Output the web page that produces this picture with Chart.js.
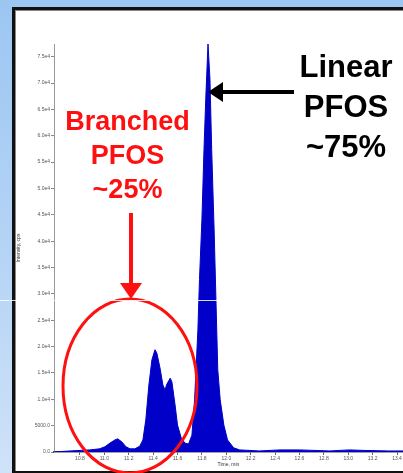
<!DOCTYPE html>
<html>
<head>
<meta charset="utf-8">
<script src="https://cdn.jsdelivr.net/npm/chart.js@4/dist/chart.umd.min.js"></script>
<style>
  html, body { margin: 0; padding: 0; }
  body { width: 403px; height: 473px; position: relative; overflow: hidden;
         background: linear-gradient(180deg, #9cc6f2 0%, #b8d6f6 60%, #cfe2f8 100%); }
  #frame { position: absolute; left: 12px; top: 7px; width: 400px; height: 461px;
           background: #fff; border-left: 3px solid #111; border-top: 3px solid #111; border-bottom: 3px solid #111;
           box-shadow: inset 1px 1px 0 #888; }
  #wrap { position: absolute; left: 0; top: 0; width: 403px; height: 473px; }
  .note { position: absolute; font-family: "Liberation Sans", Arial, sans-serif; font-weight: bold;
          text-align: center; line-height: 1; white-space: nowrap; }
  #branched { color: #ff1010; font-size: 27px; left: 55px; top: 108px; width: 145px; }
  #branched div { height: 34px; }
  #linear { color: #000; font-size: 31px; left: 290px; top: 51px; width: 112px; }
  #linear div { height: 40px; }
  svg { position: absolute; left: 0; top: 0; }
  #streak { position: absolute; left: 0; top: 300px; width: 235px; height: 1px; background: rgba(255,255,255,0.85); }
</style>
</head>
<body>
<div id="frame"></div>
<div id="wrap"><canvas id="chart" width="403" height="473"></canvas></div>
<svg width="403" height="473">
  <ellipse cx="130" cy="386" rx="67" ry="87" fill="none" stroke="#ff1010" stroke-width="3"/>
  <line x1="131" y1="213" x2="131" y2="286" stroke="#ff1010" stroke-width="4"/>
  <polygon points="120,283 142,283 131,299" fill="#ff1010"/>
  <line x1="294" y1="92" x2="220" y2="92" stroke="#000" stroke-width="4"/>
  <polygon points="223,82 223,102 208,92" fill="#000"/>
</svg>
<div class="note" id="branched"><div>Branched</div><div>PFOS</div><div>~25%</div></div>
<div class="note" id="linear"><div>Linear</div><div>PFOS</div><div>~75%</div></div>
<div id="streak"></div>

<script>
//data
var retentionTimes = [10.587, 10.72, 10.88, 10.96, 11.005, 11.046, 11.087, 11.11, 11.144, 11.177,
    11.21, 11.25, 11.29, 11.316, 11.34, 11.365, 11.39, 11.415, 11.43, 11.456,
    11.48, 11.497, 11.513, 11.54, 11.554, 11.58, 11.60, 11.63, 11.66, 11.69,
    11.718, 11.74, 11.767, 11.78, 11.80, 11.817, 11.833, 11.85, 11.866, 11.88,
    11.90, 11.915, 11.93, 11.95, 11.98, 12.01, 12.06, 12.11, 12.27, 12.44,
    12.60, 12.85, 13.01, 13.13, 13.33, 13.449];
var intensities = [0, 200, 400, 600, 1000, 1700, 2300, 2500, 1900, 1000,
    600, 600, 1100, 2300, 6100, 12700, 17500, 19400, 18800, 16000,
    12700, 11800, 12900, 14000, 13300, 8900, 5100, 2700, 1700, 1500,
    3200, 9900, 23200, 32700, 44100, 57400, 67900, 77400, 70700, 57400,
    42200, 28900, 15600, 9900, 5100, 2300, 800, 400, 200, 400,
    400, 200, 400, 300, 200, 200];

var xTicks = [10.8, 11.0, 11.2, 11.4, 11.6, 11.8, 12.0, 12.2, 12.4, 12.6, 12.8, 13.0, 13.2, 13.4];
var yTicks = [0, 5000, 10000, 15000, 20000, 25000, 30000, 35000, 40000, 45000, 50000, 55000, 60000, 65000, 70000, 75000];
var yTickLabels = ["0.0", "5000.0", "1.0e4", "1.5e4", "2.0e4", "2.5e4", "3.0e4", "3.5e4",
    "4.0e4", "4.5e4", "5.0e4", "5.5e4", "6.0e4", "6.5e4", "7.0e4", "7.5e4"];

var points = [];
retentionTimes.forEach(function(t, i){
    points.push({x: t, y: intensities[i]});
});

var tickFont = {family: "Liberation Sans", size: 5};

var ctx = document.getElementById('chart').getContext('2d');
var myChart = new Chart(ctx, {
    type: 'line',
    data: {
        datasets: [{
            label: 'PFOS',
            data: points,
            borderColor: '#0000c8',
            backgroundColor: '#0000c8',
            borderWidth: 1,
            pointRadius: 0,
            tension: 0,
            fill: 'origin'
        }]
    },
    options: {
        responsive: false,
        animation: false,
        layout: { padding: {top: 44, left: 14, right: 0, bottom: 0} },
        plugins: { legend: {display: false}, tooltip: {enabled: false} },
        scales: {
            x: {
                type: 'linear',
                min: 10.587,
                max: 13.449,
                afterBuildTicks: function(scale){
                    scale.ticks = xTicks.map(function(v){ return {value: v}; });
                },
                afterFit: function(scale){
                    scale.height = 21;
                    scale.paddingLeft = 0;
                    scale.paddingRight = 0;
                },
                ticks: {
                    autoSkip: false,
                    maxRotation: 0,
                    padding: 1,
                    color: '#555',
                    font: tickFont,
                    callback: function(v){ return v.toFixed(1); }
                },
                grid: { display: true, drawOnChartArea: false, drawTicks: true, tickLength: 3, color: '#666' },
                border: { display: true, color: '#444', width: 1.5 },
                title: { display: true, text: 'Time, min', color: '#333', font: tickFont, padding: {top: 0, bottom: 5} }
            },
            y: {
                min: 0,
                max: 77400,
                afterBuildTicks: function(scale){
                    scale.ticks = yTicks.map(function(v){ return {value: v}; });
                },
                afterFit: function(scale){
                    scale.width = 40;
                },
                ticks: {
                    autoSkip: false,
                    padding: 1,
                    color: '#555',
                    font: tickFont,
                    callback: function(v){ return yTickLabels[yTicks.indexOf(v)]; }
                },
                grid: { display: true, drawOnChartArea: false, drawTicks: true, tickLength: 3, color: '#888' },
                border: { display: true, color: '#999', width: 1 },
                title: { display: true, text: 'Intensity, cps', color: '#333', font: tickFont, padding: {top: 2, bottom: 0} }
            }
        }
    }
});
</script>
</body>
</html>
